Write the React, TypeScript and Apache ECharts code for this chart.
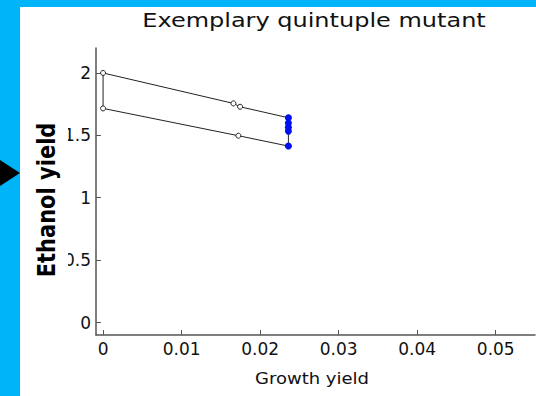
import React, { useEffect, useRef } from "react";
import * as echarts from "echarts";

// ---- data ----
const xTickValues = [0, 0.01, 0.02, 0.03, 0.04, 0.05];
const xTickLabels = ["0", "0.01", "0.02", "0.03", "0.04", "0.05"];
const yTickValues = [0, 0.5, 1, 1.5, 2];
const yTickLabels = ["0", "0.5", "1", "1.5", "2"];

// upper boundary of the projected region (growth yield, ethanol yield)
const upperEdge: [number, number][] = [
  [0, 2.0],
  [0.0166, 1.756],
  [0.01745, 1.729],
  [0.0236, 1.641],
];
// lower boundary
const lowerEdge: [number, number][] = [
  [0, 1.716],
  [0.01723, 1.497],
  [0.0236, 1.414],
];
// left side (zero growth)
const leftEdge: [number, number][] = [
  [0, 2.0],
  [0, 1.716],
];
// mutant points at maximal growth
const mutantPoints: [number, number][] = [
  [0.0236, 1.641],
  [0.0236, 1.599],
  [0.0236, 1.564],
  [0.0236, 1.534],
  [0.0236, 1.414],
];

const titleText = "Exemplary quintuple mutant";
const xName = "Growth yield";
const yName = "Ethanol yield";

export default function App() {
  const ref = useRef<HTMLDivElement>(null);
  useEffect(() => {
    if (!ref.current) return;
    const chart = echarts.init(ref.current, undefined, { renderer: "svg" });
    const axisColor = "#555555";
    const hollow = {
      symbol: "circle",
      symbolSize: 5,
      itemStyle: { color: "#ffffff", borderColor: "#222222", borderWidth: 1 },
    };
    chart.setOption({
      animation: false,
      backgroundColor: "#00B4FA",
      grid: {
        left: 96,
        top: 48,
        right: 1,
        bottom: 61,
        outerBoundsMode: "none",
        containLabel: false,
      },
      xAxis: {
        type: "value",
        min: -0.0009,
        max: 0.055,
        splitLine: { show: false },
        axisLine: { show: true, onZero: false, lineStyle: { color: axisColor, width: 1.5 } },
        axisTick: {
          show: true,
          inside: true,
          length: 5,
          customValues: xTickValues,
          lineStyle: { color: axisColor, width: 1 },
        },
        axisLabel: {
          customValues: xTickValues,
          margin: 5,
          color: "#111111",
          fontFamily: "DejaVu Sans",
          fontSize: 17,
          formatter: (v: number) => {
            const i = xTickValues.findIndex((t) => Math.abs(t - v) < 1e-9);
            return i >= 0 ? xTickLabels[i] : "";
          },
        },
      },
      yAxis: {
        type: "value",
        min: -0.1,
        max: 2.2,
        splitLine: { show: false },
        axisLine: { show: true, onZero: false, lineStyle: { color: axisColor, width: 1.5 } },
        axisTick: {
          show: true,
          inside: true,
          length: 5,
          customValues: yTickValues,
          lineStyle: { color: axisColor, width: 1 },
        },
        axisLabel: {
          customValues: yTickValues,
          margin: 5,
          color: "#111111",
          fontFamily: "DejaVu Sans",
          fontSize: 17,
          formatter: (v: number) => {
            const i = yTickValues.findIndex((t) => Math.abs(t - v) < 1e-9);
            return i >= 0 ? yTickLabels[i] : "";
          },
        },
      },
      graphic: [
        {
          type: "rect",
          z: -10,
          silent: true,
          shape: { x: 20, y: 7, width: 516, height: 389 },
          style: { fill: "#ffffff" },
        },
        {
          type: "polygon",
          z: 100,
          silent: true,
          shape: { points: [[0, 160], [20, 173], [0, 186]] },
          style: { fill: "#000000" },
        },
        {
          type: "rect",
          z: 100,
          silent: true,
          shape: { x: 20, y: 115, width: 48, height: 170 },
          style: { fill: "#ffffff" },
        },
        {
          type: "text",
          z: 101,
          silent: true,
          x: 46,
          y: 200,
          rotation: Math.PI / 2,
          scaleY: 1.2,
          style: {
            text: yName,
            fill: "#000000",
            font: "bold 21px 'DejaVu Sans'",
            align: "center",
            verticalAlign: "middle",
          },
        },
        {
          type: "text",
          z: 101,
          silent: true,
          x: 314,
          y: 20,
          scaleX: 1.2,
          style: {
            text: titleText,
            fill: "#111111",
            font: "20px 'DejaVu Sans'",
            align: "center",
            verticalAlign: "middle",
          },
        },
        {
          type: "text",
          z: 101,
          silent: true,
          x: 312,
          y: 379,
          scaleX: 1.2,
          style: {
            text: xName,
            fill: "#111111",
            font: "15px 'DejaVu Sans'",
            align: "center",
            verticalAlign: "middle",
          },
        },
      ],
      series: [
        {
          type: "line",
          data: leftEdge,
          showSymbol: false,
          lineStyle: { color: "#222222", width: 1 },
          z: 2,
        },
        {
          type: "line",
          data: upperEdge,
          ...hollow,
          lineStyle: { color: "#222222", width: 1 },
          z: 3,
        },
        {
          type: "line",
          data: lowerEdge,
          ...hollow,
          lineStyle: { color: "#222222", width: 1 },
          z: 3,
        },
        {
          type: "line",
          data: mutantPoints,
          symbol: "circle",
          symbolSize: 7,
          itemStyle: { color: "#0010F0", borderWidth: 0 },
          lineStyle: { color: "#222222", width: 1 },
          z: 4,
        },
      ],
    });
    return () => chart.dispose();
  }, []);
  return (
    <div
      ref={ref}
      style={{ position: "fixed", left: 0, top: 0, width: 536, height: 396 }}
    />
  );
}
